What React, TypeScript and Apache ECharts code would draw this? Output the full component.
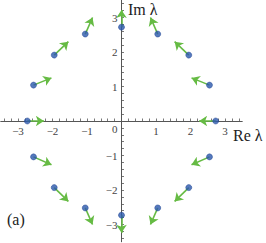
import React, { useEffect, useRef } from "react";
import * as echarts from "echarts";

// eigenvalue positions (blue dots)
const dotRe = [-2.73, -2.55, -1.95, -1.05, 0, 1.05, 1.95, 2.55, 2.73, -2.55, -1.95, -1.05, 0, 1.05, 1.95, 2.55];
const dotIm = [0, 1.04, 1.91, 2.52, 2.72, 2.52, 1.91, 1.04, 0, -1.04, -1.93, -2.52, -2.73, -2.52, -1.93, -1.04];
// arrow end points (green arrows)
const arrowRe = [-2.25, -2.03, -1.54, -0.84, 0, 0.84, 1.54, 2.03, 2.25, -2.03, -1.54, -0.84, 0, 0.84, 1.54, 2.03];
const arrowIm = [0, 1.25, 2.3, 3.0, 3.22, 3.0, 2.3, 1.25, 0, -1.27, -2.33, -3.0, -3.24, -3.0, -2.33, -1.27];

const tickLabels = [-3, -2, -1, 1, 2, 3];
const yTickLabels = [-3, -2, -1, 0, 1, 2, 3];
const minorTicks = Array.from({ length: 35 }, (_, i) => Math.round((-3.4 + i * 0.2) * 10) / 10);

const SERIF = "Times New Roman";
const AXIS_COLOR = "#555";
const fmt = (v: number) => (v < 0 ? "\u2212" + Math.abs(v) : String(v));

export default function App() {
  const ref = useRef<HTMLDivElement>(null);
  useEffect(() => {
    if (!ref.current) return;
    const chart = echarts.init(ref.current, null, { renderer: "svg" });
    const axisCommon = {
      type: "value" as const,
      min: -3.5,
      max: 3.5,
      splitLine: { show: false },
      axisLine: { onZero: false, lineStyle: { color: AXIS_COLOR, width: 1 } },
      axisTick: {
        show: true,
        inside: true,
        length: 2.5,
        customValues: minorTicks,
        lineStyle: { color: AXIS_COLOR, width: 0.8 },
      },
    };
    chart.setOption({
      animation: false,
      textStyle: { fontFamily: SERIF },
      grid: { left: 0.75, right: 23.75, top: 0.25, bottom: 1.25, containLabel: false, outerBoundsMode: "none" },
      xAxis: {
        ...axisCommon,
        position: "bottom",
        offset: -120.75,
        axisLabel: {
          customValues: tickLabels,
          formatter: fmt,
          margin: 4,
          fontFamily: SERIF,
          fontSize: 11,
          color: "#444",
        },
      },
      yAxis: {
        ...axisCommon,
        position: "left",
        offset: -120.75,
        axisLabel: {
          customValues: yTickLabels,
          formatter: (v: number) => (v === 0 ? "{z|0}" : fmt(v)),
          margin: 4,
          fontFamily: SERIF,
          fontSize: 11,
          color: "#444",
          rich: { z: { padding: [16, 0, 0, 0], fontFamily: SERIF, fontSize: 11, color: "#444" } },
        },
      },
      series: [
        {
          type: "lines",
          coordinateSystem: "cartesian2d",
          symbol: ["none", "arrow"],
          symbolSize: [7, 8],
          lineStyle: { color: "#66bb44", width: 1.6, opacity: 1 },
          itemStyle: { color: "#66bb44" },
          data: dotRe.map((x, i) => ({ coords: [[x, dotIm[i]], [arrowRe[i], arrowIm[i]]] })),
          z: 2,
        },
        {
          type: "scatter",
          symbolSize: 6,
          itemStyle: { color: "#2a58ad", borderColor: "#1c4290", borderWidth: 0.6 },
          data: dotRe.map((x, i) => [x, dotIm[i]]),
          z: 3,
        },
      ],
      graphic: [
        { type: "text", left: 128, top: 1, style: { text: "Im \u03bb", fontSize: 16, fontFamily: SERIF, fill: "#222" } },
        { type: "text", left: 233, top: 127, style: { text: "Re \u03bb", fontSize: 16, fontFamily: SERIF, fill: "#222" } },
        { type: "text", left: 7, top: 211, style: { text: "(a)", fontSize: 16, fontFamily: SERIF, fill: "#222" } },
      ],
    });
    return () => chart.dispose();
  }, []);
  return <div ref={ref} style={{ position: "absolute", left: 0, top: 0, width: 266, height: 243 }} />;
}
